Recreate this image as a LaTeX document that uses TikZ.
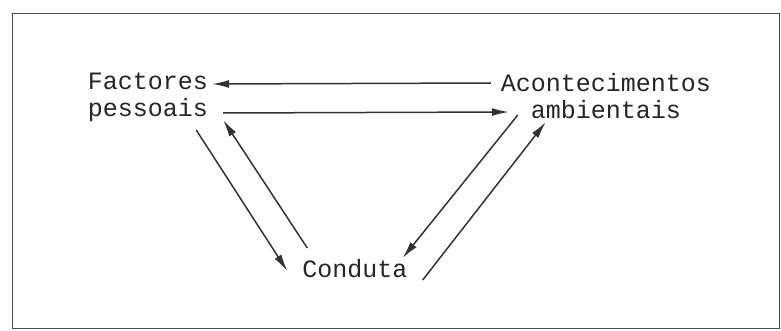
\documentclass[tikz,border=0pt]{standalone}
\usepackage{fontspec}
\setmonofont{Liberation Mono}
\usetikzlibrary{arrows.meta,positioning,calc}

\begin{document}
\begin{tikzpicture}[x=1pt, y=-1pt,
    lbl/.style={inner sep=0pt, align=center, text=black!85,
      font=\ttfamily\fontsize{25}{27}\selectfont},
    arr/.style={-{Latex[length=17pt,width=8pt]}, line width=1.5pt, draw=black!80}]
    \useasboundingbox (0,0) rectangle (781,331);
    \draw[black!70, line width=1pt] (12,14) rectangle (779,328);
    \node[lbl] (fp) at (148,97) {Factores\\pessoais};
    \node[lbl] (ae) at (606,96) {Acontecimentos\\ambientais};
    \node[lbl] (cd) at (355,269) {Conduta};
    % horizontal pair
    \draw[arr] ([shift={(-10,-13)}]ae.west) -- ([shift={(4,-13)}]fp.east);
    \draw[arr] ([shift={(15,16)}]fp.east) -- ([shift={(8,16)}]ae.west);
    % left pair
    \draw[arr] ([shift={(-12,33)}]fp.east) -- ([shift={(-15,2)}]cd.west);
    \draw[arr] ([shift={(5,-21)}]cd.west) -- ([shift={(15,23)}]fp.east);
    % right pair
    \draw[arr] ([shift={(17,19)}]ae.west) -- ([shift={(-5,-11)}]cd.east);
    \draw[arr] ([shift={(15,11)}]cd.east) -- ([shift={(45,26)}]ae.west);
\end{tikzpicture}
\end{document}
